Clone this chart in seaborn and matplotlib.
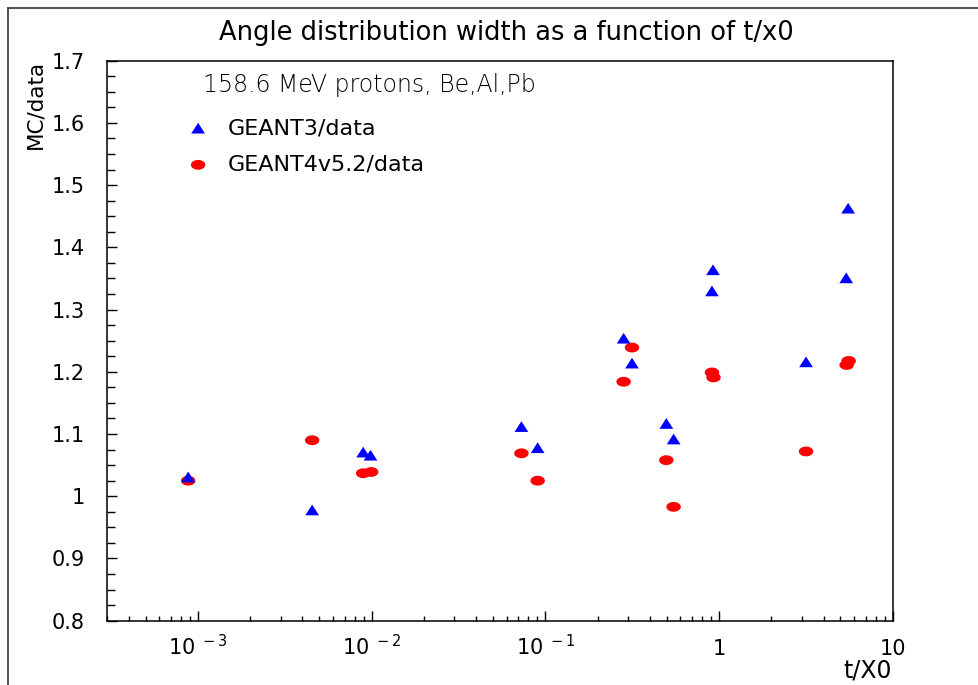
import matplotlib
matplotlib.use("Agg")
import matplotlib.pyplot as plt
import seaborn as sns
import numpy as np
import pandas as pd
from matplotlib.ticker import LogLocator, FixedLocator, FixedFormatter, MultipleLocator, NullFormatter
from matplotlib.lines import Line2D

# ---- data ----
g3_x = [8.8e-4, 4.55e-3, 8.95e-3, 9.86e-3, 0.0729, 0.0904, 0.2825, 0.3157,
        0.4975, 0.548, 0.924, 0.911, 3.17, 5.40, 5.54]
g3_y = [1.031, 0.978, 1.071, 1.066, 1.112, 1.078, 1.254, 1.214,
        1.117, 1.092, 1.364, 1.330, 1.216, 1.351, 1.463]

g4_x = [8.8e-4, 4.55e-3, 8.95e-3, 9.95e-3, 0.0729, 0.0904, 0.3157, 0.2825,
        0.4975, 0.548, 0.911, 0.930, 3.17, 5.43, 5.58]
g4_y = [1.025, 1.090, 1.037, 1.039, 1.069, 1.025, 1.239, 1.184,
        1.058, 0.983, 1.199, 1.191, 1.072, 1.211, 1.2175]

x_major = [1e-3, 1e-2, 1e-1, 1, 10]
x_major_labels = [r"$\mathregular{10^{\ -3}}$", r"$\mathregular{10^{\ -2}}$",
                  r"$\mathregular{10^{\ -1}}$", "1", "10"]
y_major = [0.8, 0.9, 1.0, 1.1, 1.2, 1.3, 1.4, 1.5, 1.6, 1.7]
y_major_labels = ["0.8", "0.9", "1", "1.1", "1.2", "1.3", "1.4", "1.5", "1.6", "1.7"]

sns.set_style("white")
plt.rcParams["font.family"] = ["DejaVu Sans"]
plt.rcParams["mathtext.fontset"] = "dejavusans"
plt.rcParams["text.color"] = "black"
plt.rcParams["xtick.color"] = "black"
plt.rcParams["ytick.color"] = "black"
plt.rcParams["xtick.labelcolor"] = "black"
plt.rcParams["ytick.labelcolor"] = "black"

W, H = 979, 685
fig = plt.figure(figsize=(W / 100, H / 100), dpi=100)
L, R, T, B = 107, 892.7, 60.7, 620.7
ax = fig.add_axes([L / W, 1 - B / H, (R - L) / W, (B - T) / H])

tri = [(-1.0, -0.78), (1.0, -0.78), (0.0, 0.78)]
th = np.linspace(0, 2 * np.pi, 40)
ell = list(zip(np.cos(th), 0.68 * np.sin(th)))

df3 = pd.DataFrame({"x": g3_x, "y": g3_y})
df4 = pd.DataFrame({"x": g4_x, "y": g4_y})

sns.scatterplot(data=df3, x="x", y="y", marker=tri, s=98, color="#0000ff",
                edgecolor="none", linewidth=0, ax=ax, label="GEANT3/data", zorder=3)
sns.scatterplot(data=df4, x="x", y="y", marker=ell, s=108, color="#ff0000",
                edgecolor="none", linewidth=0, ax=ax, label="GEANT4v5.2/data", zorder=2)

ax.set_xscale("log")
ax.set_xlim(3e-4, 10)
ax.set_ylim(0.8, 1.7)

ax.xaxis.set_major_locator(FixedLocator(x_major))
ax.xaxis.set_major_formatter(FixedFormatter(x_major_labels))
ax.xaxis.set_minor_locator(LogLocator(base=10, subs=np.arange(2, 10), numticks=30))
ax.xaxis.set_minor_formatter(NullFormatter())
ax.yaxis.set_major_locator(FixedLocator(y_major))
ax.yaxis.set_major_formatter(FixedFormatter(y_major_labels))
ax.yaxis.set_minor_locator(MultipleLocator(0.025))

ax.tick_params(axis="both", which="both", direction="in", color="black", width=1,
               bottom=True, left=True, top=False, right=False)
ax.tick_params(axis="y", which="major", length=7, pad=16, labelsize=15)
ax.tick_params(axis="y", which="minor", length=5.5)
ax.tick_params(axis="x", which="major", length=7, pad=25, labelsize=15)
ax.tick_params(axis="x", which="minor", length=3.5)
for lab in ax.get_xticklabels():
    lab.set_verticalalignment("baseline")

for sp in ax.spines.values():
    sp.set_color("black")
    sp.set_linewidth(1.1)
    sp.set_visible(True)

ax.set_xlabel("")
ax.set_ylabel("")

# axis titles
fig.text(892 / W, 1 - 677 / H, "t/X0", ha="right", va="baseline", fontsize=17, color="black")
fig.text(35 / W, 1 - 60 / H, "MC/data", ha="center", va="top", rotation=90,
         fontsize=15.5, color="black")

# title
fig.text(506 / W, 1 - 33 / H, "Angle distribution width as a function of t/x0",
         ha="center", va="center", fontsize=18.5, color="black")

# annotation
fig.text(203 / W, 1 - 85 / H, "158.6 MeV protons, Be,Al,Pb", ha="left", va="center",
         fontsize=17, fontweight="light", color="black")

# legend
leg = ax.legend(loc="upper left", bbox_to_anchor=(187 / W, 1 - 118 / H),
                bbox_transform=fig.transFigure, frameon=False, fontsize=16,
                handlelength=1.0, handletextpad=0.85, labelspacing=0.75, borderpad=0,
                borderaxespad=0, markerscale=1.0)
for t in leg.get_texts():
    t.set_color("black")

# canvas border
fig.add_artist(Line2D([8 / W, 1], [1 - 8 / H, 1 - 8 / H], transform=fig.transFigure,
                      color="#555555", lw=1.5))
fig.add_artist(Line2D([8 / W, 8 / W], [0, 1 - 8 / H], transform=fig.transFigure,
                      color="#333333", lw=1.2))

fig.savefig("out.png", dpi=100)
